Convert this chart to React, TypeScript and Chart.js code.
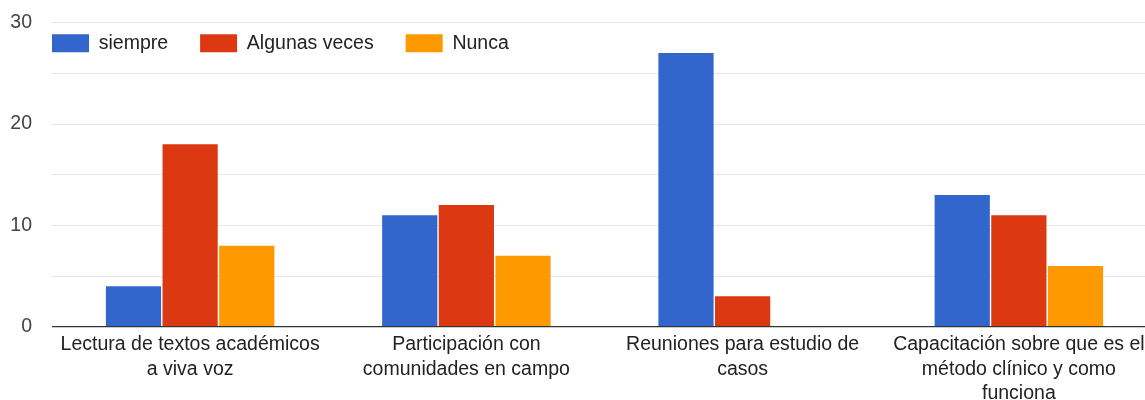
import React, { useEffect, useRef } from "react";
import { Chart, registerables } from "chart.js";

Chart.register(...registerables);

const categories: string[][] = [
  ["Lectura de textos académicos", "a viva voz"],
  ["Participación con", "comunidades en campo"],
  ["Reuniones para estudio de", "casos"],
  ["Capacitación sobre que es el", "método clínico y como", "funciona"],
];
const seriesNames = ["siempre", "Algunas veces", "Nunca"];
const siempre = [4, 11, 27, 13];
const algunasVeces = [18, 12, 3, 11];
const nunca = [8, 7, 0, 6];
const seriesColors = ["#3366cc", "#dc3912", "#ff9900"];
const yMax = 30;
const yStep = 5;
const yLabelStep = 10;

const FONT = "'Liberation Sans', Arial, Helvetica, sans-serif";
const LEGEND_PAD = 32;

const legendInside = {
  id: "legendInside",
  beforeLayout(chart: any) {
    const lg = chart.legend;
    if (lg && !lg.__patched) {
      lg.isHorizontal = () => true;
      lg.__patched = true;
    }
  },
  afterLayout(chart: any) {
    const lg = chart.legend;
    if (!lg) return;
    lg.left = chart.chartArea.left - LEGEND_PAD;
    lg.top = chart.chartArea.top - 21.2;
  },
};

export default function App() {
  const ref = useRef<HTMLCanvasElement | null>(null);
  useEffect(() => {
    if (!ref.current) return;
    const seriesData = [siempre, algunasVeces, nunca];
    const chart = new Chart(ref.current, {
      type: "bar",
      data: {
        labels: categories,
        datasets: seriesNames.map((name, i) => ({
          label: name,
          data: seriesData[i],
          backgroundColor: seriesColors[i],
          borderWidth: 0,
          categoryPercentage: 0.615,
          barPercentage: 0.975,
        })),
      },
      options: {
        responsive: false,
        animation: false,
        layout: { padding: { top: 22.7, right: 3, left: 0, bottom: 0 } },
        plugins: {
          tooltip: { enabled: false },
          legend: {
            position: "chartArea" as any,
            align: "start",
            labels: {
              boxWidth: 37,
              boxHeight: 18,
              padding: LEGEND_PAD,
              color: "#222",
              font: { family: FONT, size: 19.5 },
            },
          },
        },
        scales: {
          x: {
            grid: { display: false, drawTicks: false },
            border: { display: false },
            ticks: {
              autoSkip: false,
              maxRotation: 0,
              color: "#222",
              padding: 6,
              font: { family: FONT, size: 19.5, lineHeight: 1.246 },
            },
            afterFit(scale: any) {
              scale.height = 73.3;
            },
          },
          y: {
            min: 0,
            max: yMax,
            border: { display: false },
            grid: {
              color: (ctx: any) => (ctx.tick && ctx.tick.value === 0 ? "#333" : "#e6e6e6"),
              lineWidth: (ctx: any) => (ctx.tick && ctx.tick.value === 0 ? 1.3 : 1),
              drawTicks: false,
            },
            ticks: {
              stepSize: yStep,
              padding: 20,
              color: "#444",
              font: { family: FONT, size: 19.5 },
              callback: (v: any) => (Number(v) % yLabelStep === 0 ? String(v) : ""),
            },
            afterFit(scale: any) {
              scale.width = 52;
              scale.paddingTop = 0;
              scale.paddingBottom = 0;
            },
          },
        },
      },
      plugins: [legendInside],
    });
    return () => chart.destroy();
  }, []);
  return (
    <div
      style={{
        position: "absolute",
        left: 0,
        top: 0,
        width: 1145,
        height: 400,
        overflow: "hidden",
        background: "#fff",
      }}
    >
      <canvas ref={ref} width={1160} height={400} style={{ width: 1160, height: 400, display: "block" }} />
    </div>
  );
}
